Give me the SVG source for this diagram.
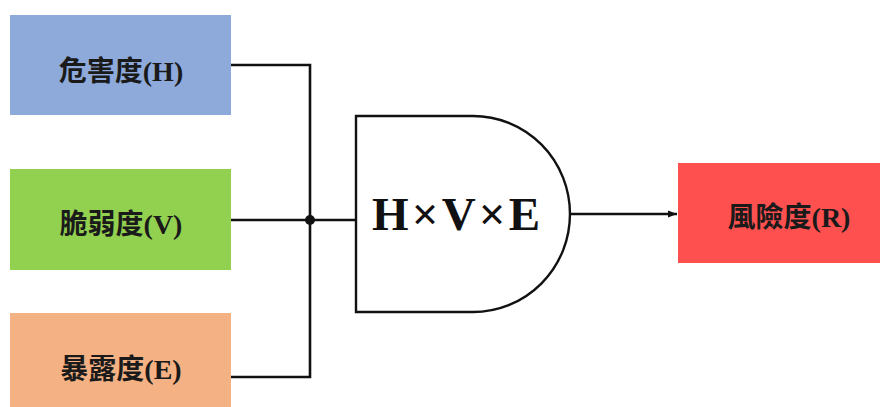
<svg xmlns="http://www.w3.org/2000/svg" width="885" height="407" viewBox="0 0 885 407">
  <style>
    .lbl { font-family: "Liberation Serif", "Noto Sans CJK TC", serif; font-weight: bold; font-size: 28px; fill: #1a1a1a; text-anchor: middle; }
    .wire { stroke: #111; stroke-width: 2.6; fill: none; }
    .gate { stroke: #111; stroke-width: 2.4; fill: #fff; }
  </style>
  <defs>
    <marker id="arr" markerWidth="10" markerHeight="8" refX="9" refY="4" orient="auto" markerUnits="userSpaceOnUse">
      <path d="M0,0.5 L9,4 L0,7.5 Z" fill="#111"/>
    </marker>
  </defs>
  <rect width="885" height="407" fill="#fff"/>
  <g id="connectors">
    <polyline class="wire" points="231,65 310,65 310,377 231,377"/>
    <line class="wire" x1="231" y1="220" x2="356" y2="220"/>
    <circle cx="310" cy="220" r="5" fill="#111"/>
    <line class="wire" x1="570" y1="214" x2="677" y2="214" marker-end="url(#arr)"/>
  </g>
  <g id="node-H">
    <rect x="10" y="15" width="221" height="100" fill="#8EAADB"/>
    <text class="lbl" x="121" y="81">危害度(H)</text>
  </g>
  <g id="node-V">
    <rect x="10" y="169" width="221" height="101" fill="#92D050"/>
    <text class="lbl" x="121" y="234">脆弱度(V)</text>
  </g>
  <g id="node-E">
    <rect x="10" y="313" width="221" height="94" fill="#F4B183"/>
    <text class="lbl" x="121" y="379">暴露度(E)</text>
  </g>
  <g id="node-gate">
    <path class="gate" d="M356,116 H473 A97,98 0 0 1 473,312 H356 Z"/>
    <text x="372" y="230" textLength="168" lengthAdjust="spacing" style="font-family:'Liberation Serif', serif; font-weight:bold; font-size:47px; fill:#111;">H×V×E</text>
  </g>
  <g id="node-R">
    <rect x="678" y="163" width="202" height="100" fill="#FF5050"/>
    <text class="lbl" x="789" y="227">風險度(R)</text>
  </g>
</svg>
